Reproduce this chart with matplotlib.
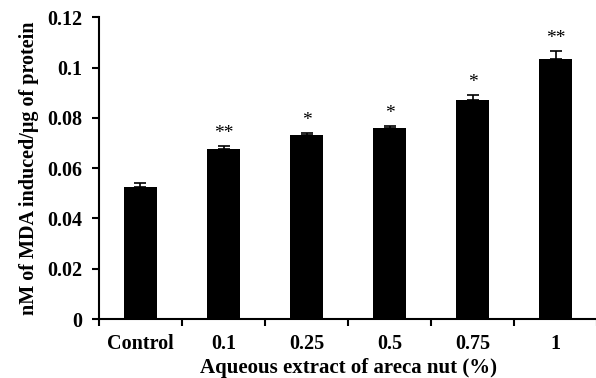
import numpy as np
import matplotlib
matplotlib.use("Agg")
import matplotlib.pyplot as plt

# data
categories = ["Control", "0.1", "0.25", "0.5", "0.75", "1"]
mda = [0.0527, 0.0676, 0.0732, 0.0761, 0.0873, 0.1036]
err = [0.0013, 0.0013, 0.0007, 0.0007, 0.0017, 0.0029]
stars = ["", "**", "*", "*", "*", "**"]

plt.rcParams["font.family"] = ["Liberation Serif", "DejaVu Serif"]
plt.rcParams["font.weight"] = "bold"

fig = plt.figure(figsize=(5.96, 3.78), dpi=100)
ax = fig.add_axes([0.166, 0.156, 0.836, 0.798])

x = np.arange(len(categories))
ax.bar(x, mda, width=0.4, color="black", zorder=2)
ax.errorbar(x, mda, yerr=[np.zeros(len(err)), err], fmt="none",
            ecolor="black", elinewidth=1.2, capsize=4, capthick=1.2, zorder=3)

for xi, m, e, s in zip(x, mda, err, stars):
    if s:
        ax.annotate(s, (xi, m + e), xytext=(0, 3), textcoords="offset points",
                    ha="center", va="bottom", fontsize=14, fontweight="normal")

ax.set_xlim(-0.5, len(categories) - 0.5)
ax.set_ylim(0, 0.12)
ax.set_yticks([0, 0.02, 0.04, 0.06, 0.08, 0.1, 0.12])
ax.set_yticklabels(["0", "0.02", "0.04", "0.06", "0.08", "0.1", "0.12"])

ax.set_xticks(x)
ax.set_xticklabels(categories)
ax.tick_params(axis="x", length=0, labelsize=14.5, pad=11)
ax.set_xticks(np.arange(-0.5, len(categories), 1), minor=True)
ax.tick_params(axis="x", which="minor", length=5, width=1.5, direction="out")
ax.tick_params(axis="y", length=5, width=1.5, labelsize=14.5, direction="out", pad=7)

for side in ["top", "right"]:
    ax.spines[side].set_visible(False)
for side in ["left", "bottom"]:
    ax.spines[side].set_linewidth(1.5)

ax.set_xlabel("Aqueous extract of areca nut (%)", fontsize=15, fontweight="bold", labelpad=3)
ax.set_ylabel("nM of MDA induced/μg of protein", fontsize=14.5, fontweight="bold", labelpad=6)

fig.savefig("out.png", dpi=100)
